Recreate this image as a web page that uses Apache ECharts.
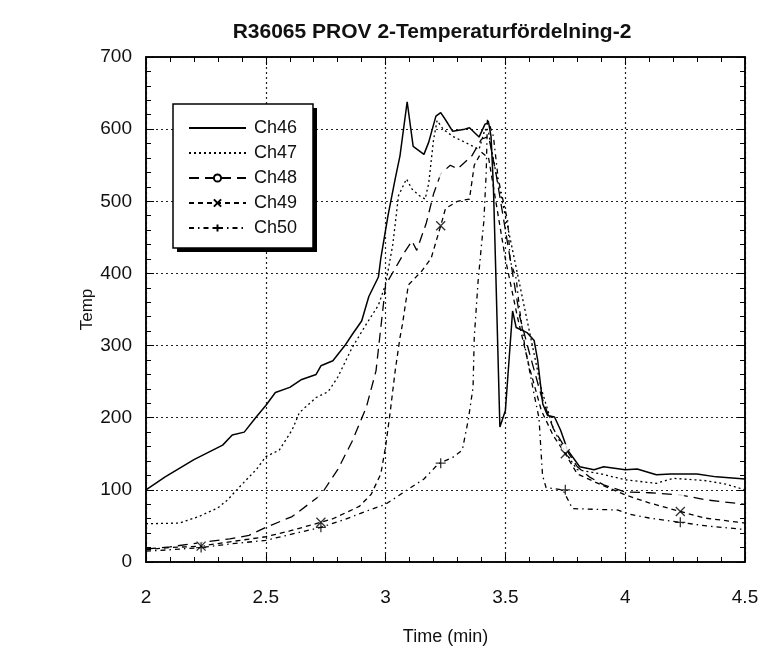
<!DOCTYPE html>
<html>
<head>
<meta charset="utf-8">
<script src="https://cdn.jsdelivr.net/npm/echarts@6/dist/echarts.min.js"></script>
<style>html,body{margin:0;padding:0;background:#fff}#c{width:762px;height:651px}</style>
</head>
<body>
<div id="c"></div>
<script>
var titleText = 'R36065 PROV 2-Temperaturfördelning-2';
var seriesNames = ['Ch46', 'Ch47', 'Ch48', 'Ch49', 'Ch50'];

var ch46 = [[2.0,100],[2.08,118],[2.2,142],[2.32,162],[2.36,176],[2.41,180],[2.46,201],[2.5,217],[2.54,235],[2.6,242],[2.65,253],[2.71,260],[2.73,272],[2.78,279],[2.83,300],[2.86,315],[2.9,334],[2.93,368],[2.97,395],[2.98,421],[3.01,480],[3.04,531],[3.06,563],[3.09,638],[3.115,576],[3.16,565],[3.18,582],[3.21,618],[3.23,623],[3.25,613],[3.28,597],[3.33,600],[3.35,602],[3.39,589],[3.415,607],[3.43,609],[3.44,590],[3.45,520],[3.46,400],[3.477,187],[3.5,210],[3.51,256],[3.53,348],[3.545,325],[3.59,318],[3.62,307],[3.635,279],[3.656,219],[3.676,203],[3.705,201],[3.73,183],[3.76,155],[3.81,132],[3.87,128],[3.91,132],[4.0,128],[4.05,129],[4.13,121],[4.19,122],[4.3,122],[4.38,118],[4.5,115]];
var ch47 = [[2.0,53],[2.14,54],[2.22,63],[2.3,75],[2.34,86],[2.39,104],[2.46,128],[2.5,146],[2.556,155],[2.61,183],[2.64,207],[2.71,228],[2.76,236],[2.8,256],[2.86,297],[2.92,330],[2.97,356],[3.0,385],[3.03,440],[3.054,508],[3.087,531],[3.11,517],[3.14,508],[3.165,503],[3.18,525],[3.2,585],[3.215,612],[3.24,600],[3.28,590],[3.33,582],[3.39,572],[3.415,600],[3.43,595],[3.46,540],[3.5,480],[3.55,400],[3.6,320],[3.65,240],[3.7,185],[3.75,152],[3.8,128],[3.9,122],[4.0,114],[4.13,109],[4.2,116],[4.33,113],[4.42,108],[4.5,100]];
var ch48 = [[2.0,18],[2.1,21],[2.23,27],[2.35,32],[2.43,37],[2.5,48],[2.61,63],[2.73,93],[2.8,128],[2.86,167],[2.92,215],[2.96,265],[2.98,325],[3.0,384],[3.08,430],[3.11,445],[3.13,432],[3.17,470],[3.2,510],[3.23,538],[3.27,550],[3.3,545],[3.36,563],[3.4,586],[3.43,590],[3.46,540],[3.5,460],[3.53,400],[3.56,340],[3.6,290],[3.65,230],[3.7,185],[3.75,158],[3.8,132],[3.85,118],[3.91,107],[4.0,97],[4.1,96],[4.23,93],[4.34,86],[4.5,80]];
var ch49 = [[2.0,17],[2.1,20],[2.23,22],[2.35,28],[2.5,35],[2.6,43],[2.73,55],[2.78,60],[2.89,77],[2.94,94],[2.98,122],[3.0,160],[3.02,210],[3.04,265],[3.06,311],[3.07,329],[3.095,384],[3.15,403],[3.19,421],[3.23,466],[3.25,490],[3.3,500],[3.35,503],[3.37,550],[3.4,568],[3.43,560],[3.46,500],[3.5,420],[3.55,340],[3.6,270],[3.65,210],[3.7,175],[3.75,150],[3.8,122],[3.9,107],[4.0,93],[4.1,82],[4.23,70],[4.33,61],[4.5,54]];
var ch50 = [[2.0,15],[2.1,17],[2.23,20],[2.35,25],[2.5,30],[2.6,38],[2.73,48],[2.83,59],[2.94,73],[3.0,80],[3.05,91],[3.095,101],[3.16,115],[3.22,136],[3.28,145],[3.32,155],[3.345,197],[3.365,242],[3.37,311],[3.386,389],[3.4,439],[3.41,472],[3.42,540],[3.425,615],[3.45,590],[3.47,531],[3.51,472],[3.52,417],[3.545,393],[3.56,348],[3.58,301],[3.62,232],[3.64,200],[3.655,120],[3.67,103],[3.74,100],[3.78,74],[3.97,72],[4.02,66],[4.1,61],[4.23,55],[4.34,50],[4.5,45]];

var ch48Marks = [[2.23,27],[2.73,93],[3.23,538],[3.75,158],[4.23,93]];
var ch49Marks = [[2.23,22],[2.73,55],[3.23,466],[3.75,150],[4.23,70]];
var ch50Marks = [[2.23,20],[2.73,48],[3.23,137],[3.75,100],[4.23,55]];

var xMin = 2, xMax = 4.5, xStep = 0.5;
var yMin = 0, yMax = 700, yStep = 100;

var FONT = 'Liberation Sans, Arial, Helvetica, sans-serif';
var crossSym = 'path://M0,0L10,10M10,0L0,10';
var plusSym = 'path://M5,0L5,10M0,5L10,5';

var chart = echarts.init(document.getElementById('c'), null, {renderer: 'canvas'});

function axisCommon(isX, pos, showLabel) {
  return {
    type: 'value',
    position: pos,
    min: isX ? xMin : yMin,
    max: isX ? xMax : yMax,
    interval: isX ? xStep : yStep,
    axisLine: {show: true, onZero: false, lineStyle: {color: '#000', width: 1.5}},
    axisTick: {show: true, inside: true, length: 8, lineStyle: {color: '#000', width: 1}},
    minorTick: {show: true, splitNumber: 5, length: 5, lineStyle: {color: '#000', width: 1}},
    axisLabel: {show: showLabel, color: '#111', fontFamily: FONT, fontSize: 19, margin: isX ? 26 : 14},
    splitLine: {show: showLabel, lineStyle: {color: '#222', width: 1.2, type: [2, 3]}},
    minorSplitLine: {show: false}
  };
}

var xa0 = axisCommon(true, 'bottom', true);
xa0.name = 'Time (min)';
xa0.nameLocation = 'middle';
xa0.nameGap = 66;
xa0.nameMoveOverlap = false;
xa0.nameTextStyle = {color: '#111', fontFamily: FONT, fontSize: 18};
var xa1 = axisCommon(true, 'top', false);
var ya0 = axisCommon(false, 'left', true);
ya0.name = 'Temp';
ya0.nameLocation = 'middle';
ya0.nameGap = 50;
ya0.nameMoveOverlap = false;
ya0.nameTextStyle = {color: '#111', fontFamily: FONT, fontSize: 17};
var ya1 = axisCommon(false, 'right', false);

function lineSeries(name, data, dash, width, symbol) {
  return {
    name: name, type: 'line', data: data, xAxisIndex: 0, yAxisIndex: 0,
    symbol: symbol, showSymbol: false, symbolSize: 7, smooth: false,
    lineStyle: {color: '#000', width: width, type: dash},
    itemStyle: {color: '#000', borderColor: '#000', borderWidth: 1.2},
    emphasis: {disabled: true}, silent: true, z: 2
  };
}
function markSeries(name, data, symbol, size, fill) {
  return {
    name: name, type: 'scatter', data: data, symbol: symbol, symbolSize: size,
    itemStyle: {color: fill, borderColor: '#000', borderWidth: 1.3},
    emphasis: {disabled: true}, silent: true, z: 3
  };
}

var option = {
  backgroundColor: '#fff',
  animation: false,
  title: {
    text: titleText, left: 427, top: 17, textAlign: 'center',
    textStyle: {color: '#111', fontFamily: FONT, fontSize: 21, fontWeight: 'bold'}
  },
  grid: {left: 146, right: 17, top: 57, bottom: 85, show: true, borderColor: '#000', borderWidth: 1.5, containLabel: false},
  xAxis: [xa0, xa1],
  yAxis: [ya0, ya1],
  legend: {
    data: [
      {name: 'Ch46', itemStyle: {opacity: 0}},
      {name: 'Ch47', itemStyle: {opacity: 0}},
      {name: 'Ch48'}, {name: 'Ch49'}, {name: 'Ch50'}
    ],
    orient: 'vertical', left: 188, top: 119, padding: 0,
    itemWidth: 57, itemHeight: 9, itemGap: 7,
    textStyle: {color: '#111', fontFamily: FONT, fontSize: 18, padding: [0, 0, 0, 3]},
    selectedMode: false, z: 6
  },
  graphic: [
    {type: 'rect', z: 4, shape: {x: 177, y: 108, width: 140, height: 144}, style: {fill: '#000'}},
    {type: 'rect', z: 5, shape: {x: 173, y: 104, width: 140, height: 144}, style: {fill: '#fff', stroke: '#000', lineWidth: 1.5}}
  ],
  series: [
    lineSeries('Ch46', ch46, 'solid', 1.5, 'none'),
    lineSeries('Ch47', ch47, [2, 3], 1.3, 'none'),
    lineSeries('Ch48', ch48, [10, 6], 1.3, 'emptyCircle'),
    lineSeries('Ch49', ch49, [5, 4], 1.3, crossSym),
    lineSeries('Ch50', ch50, [5, 4, 1.5, 4], 1.3, plusSym),
    markSeries('m48', ch48Marks, 'emptyCircle', 6, '#fff'),
    markSeries('m49', ch49Marks, crossSym, 9, 'none'),
    markSeries('m50', ch50Marks, plusSym, 10, 'none')
  ]
};
chart.setOption(option);
</script>
</body>
</html>
